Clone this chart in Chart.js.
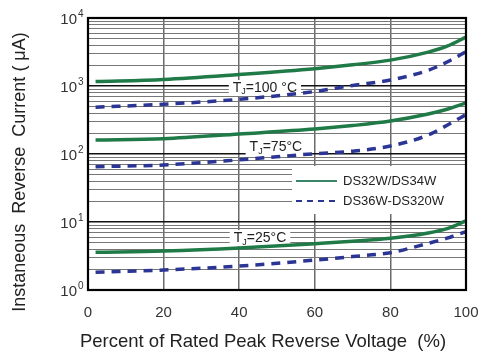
<!DOCTYPE html>
<html>
<head>
<meta charset="utf-8">
<script src="https://cdn.jsdelivr.net/npm/chart.js@4/dist/chart.umd.min.js"></script>
<style>
  html, body { margin: 0; padding: 0; background: #fff; }
  #wrap { width: 482px; height: 352px; }
</style>
</head>
<body>
<div id="wrap"><canvas id="myChart"></canvas></div>
<script>
// percent of rated peak reverse voltage
const pct = [2, 20, 40, 60, 70, 80, 90, 95, 100];

// reverse current (uA)
const g100 = [1160, 1250, 1480, 1800, 2050, 2400, 3150, 3850, 5250];
const b100 = [487, 540, 637, 830, 1020, 1225, 1700, 2250, 3190];
const g75 = [161, 168, 197, 233, 262, 305, 387, 455, 562];
const b75 = [65, 69, 82, 101, 110, 131, 190, 265, 380];
const g25 = [3.58, 3.75, 4.15, 4.8, 5.2, 5.76, 6.9, 8.0, 10.4];
const b25 = [1.82, 1.97, 2.25, 2.75, 3.1, 3.54, 4.86, 5.8, 7.2];

const xTicks = [0, 20, 40, 60, 80, 100];
const yExp = [0, 1, 2, 3, 4];

// temperature labels: [pct, current, text]
const tempLabels = [
  [46.8, 935, "=100 °C"],
  [49.7, 125, "=75°C"],
  [45.5, 5.8, "=25°C"],
];

const seriesNames = ["DS32W/DS34W", "DS36W-DS320W"];
const xTitle = "Percent of Rated Peak Reverse Voltage  (%)";
const yTitle = "Instaneous  Reverse  Current ( μA)";

const GREEN = "#1f7a48";
const BLUE = "#2b3593";
const FONT = "'Liberation Sans', Arial, sans-serif";

const pts = (arr) => pct.map((x, i) => ({ x: x, y: arr[i] }));

const solid = (arr) => ({
  data: pts(arr),
  borderColor: GREEN,
  borderWidth: 3.5,
  pointRadius: 0,
  cubicInterpolationMode: "monotone",
});
const dashed = (arr) => ({
  data: pts(arr),
  borderColor: BLUE,
  borderWidth: 3.5,
  borderDash: [9, 7],
  pointRadius: 0,
  cubicInterpolationMode: "monotone",
});

// minor + major ticks for the log axis
const yTicks = [];
yExp.forEach((e) => {
  if (e === 4) { yTicks.push(1e4); return; }
  for (let m = 1; m <= 9; m++) yTicks.push(m * Math.pow(10, e));
});

const isDecade = (v) => Math.abs(Math.log10(v) - Math.round(Math.log10(v))) < 1e-9;

const extras = {
  id: "extras",
  beforeDatasetsDraw(chart) {
    const { ctx, chartArea: a, scales: { x, y } } = chart;
    ctx.save();
    // temperature labels
    tempLabels.forEach(([px, cur, txt]) => {
      const cx = x.getPixelForValue(px);
      const cy = y.getPixelForValue(cur);
      ctx.font = "14px " + FONT;
      const wT = ctx.measureText("T").width;
      ctx.font = "9px " + FONT;
      const wJ = ctx.measureText("J").width;
      ctx.font = "14px " + FONT;
      const wR = ctx.measureText(txt).width;
      const w = wT + wJ + wR;
      ctx.fillStyle = "#fff";
      ctx.fillRect(cx - w / 2 - 4, cy - 8, w + 8, 16);
      ctx.fillStyle = "#222";
      ctx.textBaseline = "middle";
      ctx.textAlign = "left";
      let tx = cx - w / 2;
      ctx.fillText("T", tx, cy);
      tx += wT;
      ctx.font = "9px " + FONT;
      ctx.fillText("J", tx, cy + 4);
      tx += wJ;
      ctx.font = "14px " + FONT;
      ctx.fillText(txt, tx, cy);
    });
    // legend
    const lx = a.right - 174, ly = 166;
    ctx.fillStyle = "#fff";
    ctx.fillRect(lx, ly, a.right - lx, 48);
    ctx.lineWidth = 2;
    ctx.strokeStyle = "#3a8468";
    ctx.beginPath();
    ctx.moveTo(lx + 4, ly + 15);
    ctx.lineTo(lx + 45, ly + 15);
    ctx.stroke();
    ctx.strokeStyle = BLUE;
    ctx.lineWidth = 2.2;
    ctx.setLineDash([6, 5]);
    ctx.beginPath();
    ctx.moveTo(lx + 4, ly + 35);
    ctx.lineTo(lx + 45, ly + 35);
    ctx.stroke();
    ctx.setLineDash([]);
    ctx.fillStyle = "#222";
    ctx.font = "13px " + FONT;
    ctx.textBaseline = "middle";
    ctx.fillText(seriesNames[0], lx + 51, ly + 15);
    ctx.fillText(seriesNames[1], lx + 51, ly + 35);
    ctx.restore();
  },
  afterDatasetsDraw(chart) {
    const { ctx, chartArea: a } = chart;
    ctx.save();
    ctx.strokeStyle = "#000";
    ctx.lineWidth = 2.2;
    ctx.strokeRect(a.left, a.top, a.right - a.left, a.bottom - a.top);
    ctx.restore();
  },
  afterDraw(chart) {
    const { ctx, scales: { y } } = chart;
    ctx.save();
    ctx.fillStyle = "#333";
    ctx.textBaseline = "middle";
    yExp.forEach((e) => {
      const py = y.getPixelForValue(Math.pow(10, e));
      ctx.font = "15px " + FONT;
      ctx.textAlign = "right";
      ctx.fillText("10", 77, py + 2);
      ctx.font = "10px " + FONT;
      ctx.textAlign = "left";
      ctx.fillText(String(e), 78, py - 4);
    });
    // axis titles
    ctx.fillStyle = "#222";
    ctx.textAlign = "center";
    ctx.font = "18.5px " + FONT;
    ctx.fillText(xTitle, 263, 342);
    ctx.font = "18px " + FONT;
    ctx.translate(20, 172);
    ctx.rotate(-Math.PI / 2);
    ctx.fillText(yTitle, 0, 0);
    ctx.restore();
  },
};

const config = {
  type: "line",
  data: {
    datasets: [solid(g100), dashed(b100), solid(g75), dashed(b75), solid(g25), dashed(b25)],
  },
  options: {
    responsive: false,
    animation: false,
    layout: { padding: { left: 0, right: 16, top: 18, bottom: 0 } },
    plugins: { legend: { display: false }, tooltip: { enabled: false } },
    scales: {
      x: {
        type: "linear",
        min: 0,
        max: 100,
        afterBuildTicks: (s) => { s.ticks = xTicks.map((v) => ({ value: v })); },
        afterFit: (s) => { s.height = 62; s.paddingLeft = 0; s.paddingRight = 0; },
        ticks: {
          color: "#333",
          font: { size: 15, family: FONT },
          padding: 14,
          maxRotation: 0,
        },
        grid: {
          drawTicks: false,
          color: (c) => (c.tick && (c.tick.value === 0 || c.tick.value === 100) ? "rgba(0,0,0,0)" : "#6a6a6a"),
          lineWidth: 1.5,
        },
        border: { display: false },
      },
      y: {
        type: "logarithmic",
        min: 1,
        max: 10000,
        afterBuildTicks: (s) => { s.ticks = yTicks.map((v) => ({ value: v })); },
        afterFit: (s) => { s.width = 88; },
        ticks: { display: false, autoSkip: false },
        grid: {
          drawTicks: false,
          color: (c) => (c.tick && isDecade(c.tick.value) ? "#111" : "#777"),
          lineWidth: (c) => (c.tick && isDecade(c.tick.value) ? 1.5 : 1.1),
        },
        border: { display: false },
      },
    },
  },
  plugins: [extras],
};

const canvas = document.getElementById("myChart");
canvas.width = 482;
canvas.height = 352;
new Chart(canvas.getContext("2d"), config);
</script>
</body>
</html>
